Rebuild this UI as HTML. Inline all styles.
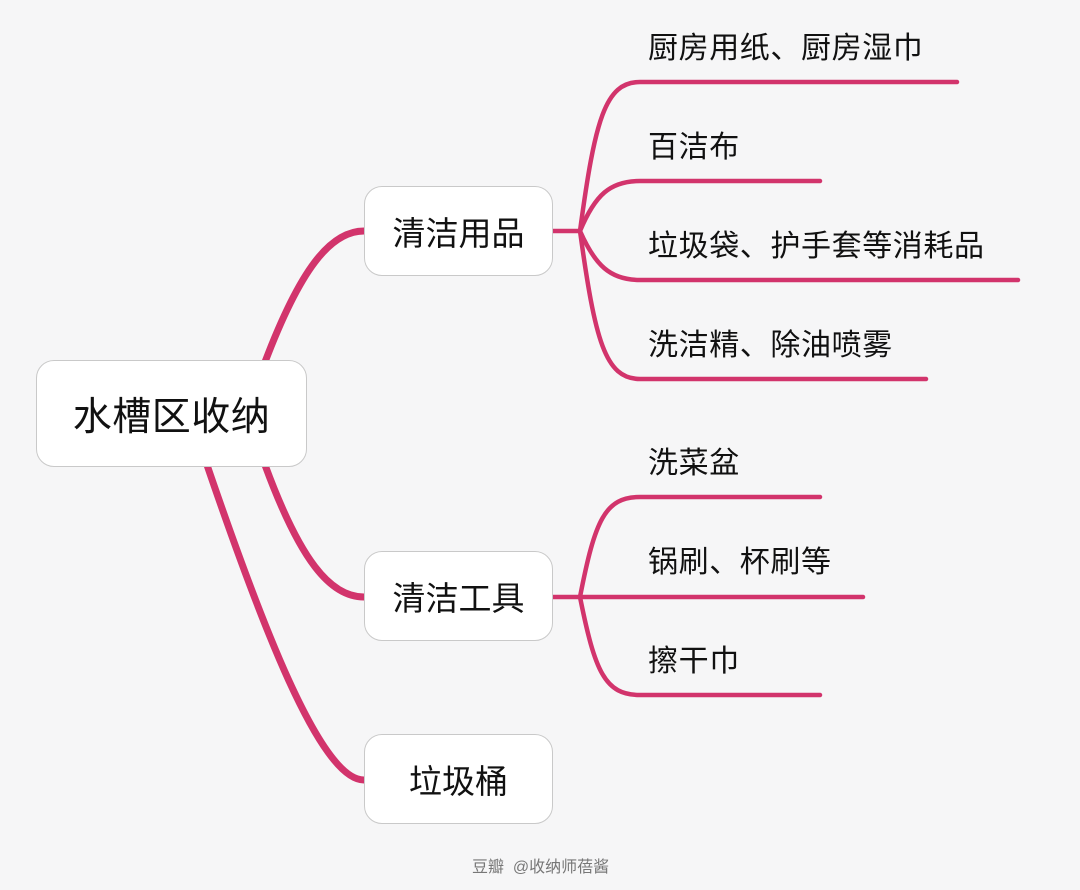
<!DOCTYPE html>
<html><head><meta charset="utf-8"><style>
body{margin:0;width:1080px;height:890px;background:#f6f6f7;overflow:hidden;position:relative;font-family:"Liberation Sans","Noto Sans CJK SC",sans-serif;}
.box{position:absolute;background:#fff;border:1px solid #c9c9c9;border-radius:18px;box-sizing:border-box;display:flex;align-items:center;justify-content:center;color:#111;}
.t{position:absolute;font-size:30px;letter-spacing:0.6px;color:#111;line-height:1;white-space:nowrap;}
</style></head><body>
<svg width="1080" height="890" style="position:absolute;left:0;top:0" fill="none" stroke="#d2346c" stroke-linecap="round">
<g stroke-width="7">
<path d="M265 362 C 300 270, 330 231, 364 231"/>
<path d="M265 465 C 300 560, 330 597, 364 597"/>
<path d="M207 465 C 260 620, 320 780, 364 780"/>
</g>
<g stroke-width="4.5">
<path d="M552 231 H580"/>
<path d="M580 231 C 595 120, 605 82, 640 82 H957"/>
<path d="M580 231 C 595 195, 610 181, 640 181 H820"/>
<path d="M580 231 C 595 265, 610 280, 640 280 H1018"/>
<path d="M580 231 C 595 340, 605 379, 640 379 H926"/>
<path d="M552 597 H580"/>
<path d="M580 597 C 595 520, 605 497, 640 497 H820"/>
<path d="M580 597 H863"/>
<path d="M580 597 C 595 672, 605 695, 640 695 H820"/>
</g>
</svg>
<div class="box" style="left:36px;top:360px;width:271px;height:107px;font-size:39px;letter-spacing:0.5px">水槽区收纳</div>
<div class="box" style="left:364px;top:186px;width:189px;height:90px;font-size:33px;">清洁用品</div>
<div class="box" style="left:364px;top:551px;width:189px;height:90px;font-size:33px;">清洁工具</div>
<div class="box" style="left:364px;top:734px;width:189px;height:90px;font-size:33px;">垃圾桶</div>
<div class="t" style="left:648px;top:34px">厨房用纸、厨房湿巾</div>
<div class="t" style="left:648px;top:133px">百洁布</div>
<div class="t" style="left:648px;top:232px">垃圾袋、护手套等消耗品</div>
<div class="t" style="left:648px;top:331px">洗洁精、除油喷雾</div>
<div class="t" style="left:648px;top:449px">洗菜盆</div>
<div class="t" style="left:648px;top:548px">锅刷、杯刷等</div>
<div class="t" style="left:648px;top:647px">擦干巾</div>
<div class="t" style="left:472px;top:860px;font-size:16px;color:#777;letter-spacing:0">豆瓣 &nbsp;@收纳师蓓酱</div>
</body></html>
